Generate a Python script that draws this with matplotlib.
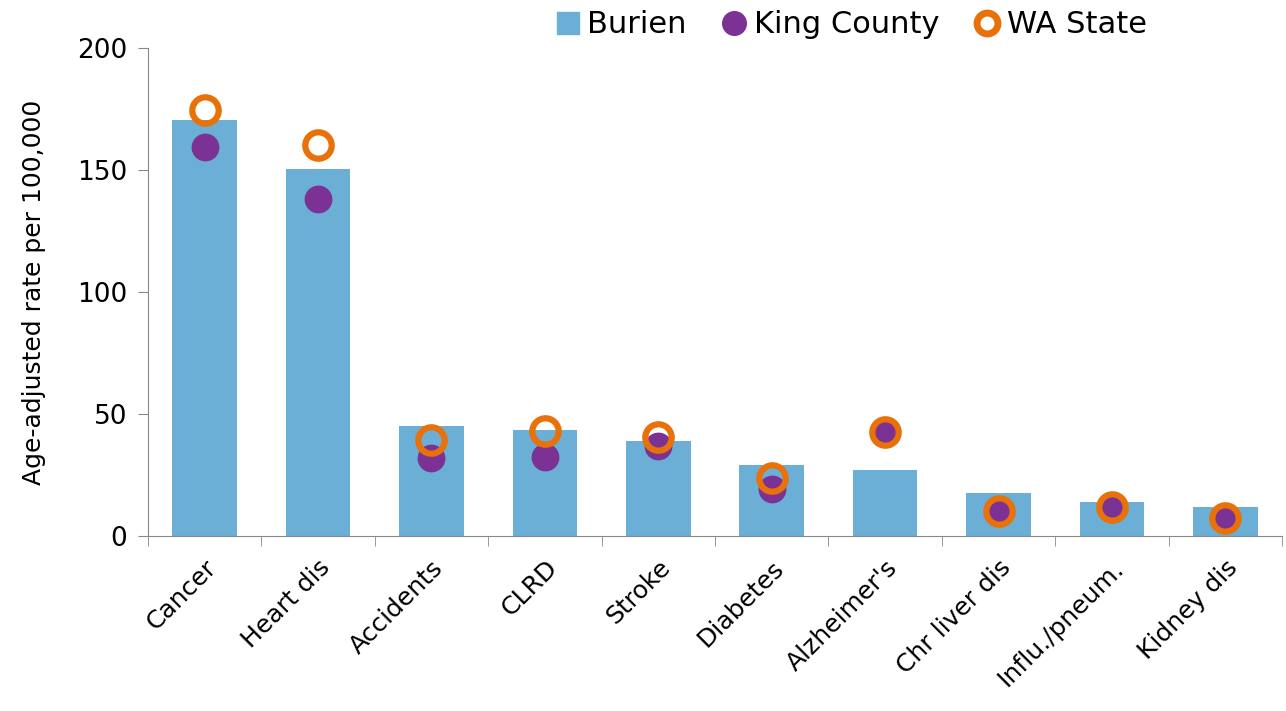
import matplotlib.pyplot as plt
from matplotlib.lines import Line2D
import numpy as np

categories = ['Cancer', 'Heart dis', 'Accidents', 'CLRD', 'Stroke', 'Diabetes',
              "Alzheimer's", 'Chr liver dis', 'Influ./pneum.', 'Kidney dis']
burien = [170.3, 150.5, 45.3, 43.3, 38.9, 29.1, 27.1, 17.6, 13.9, 11.9]
king_county = [159.3, 138.0, 32.0, 32.4, 36.9, 19.3, 42.6, 9.8, 11.0, 7.4]
wa_state = [174.6, 160.2, 39.3, 43.0, 40.6, 23.8, 42.6, 10.2, 11.9, 7.4]

bar_color = '#6BAED6'
purple = '#7B3294'
orange = '#E8710A'

fig = plt.figure(figsize=(12.86, 7.11), dpi=100)
ax = fig.add_axes([0.115, 0.246, 0.882, 0.6865])

x = np.arange(len(categories))
ax.bar(x, burien, width=0.57, color=bar_color, zorder=1)
ax.plot(x, king_county, 'o', ls='none', color=purple, markersize=19, zorder=2)
ax.plot(x, wa_state, 'o', ls='none', markerfacecolor='none', markeredgecolor=orange,
        markeredgewidth=4.5, markersize=19, zorder=3)

ax.set_xlim(-0.5, len(categories) - 0.5)
ax.set_ylim(0, 200)
ax.set_yticks([0, 50, 100, 150, 200])
ax.set_xticks(x)
ax.set_xticklabels(categories, rotation=45, ha='right', rotation_mode='anchor', fontsize=18)
ax.set_xticks(np.arange(len(categories) + 1) - 0.5, minor=True)
ax.tick_params(axis='x', which='major', length=0, pad=14)
ax.tick_params(axis='x', which='minor', length=7, color='#888888')
ax.tick_params(axis='y', length=7, color='#888888', labelsize=19, pad=8)
ax.set_ylabel('Age-adjusted rate per 100,000', fontsize=18, labelpad=22)

for side in ['top', 'right']:
    ax.spines[side].set_visible(False)
ax.spines['left'].set_color('#888888')
ax.spines['bottom'].set_color('#888888')

handles = [
    Line2D([], [], marker='s', ls='none', color=bar_color, markersize=16),
    Line2D([], [], marker='o', ls='none', color=purple, markersize=17),
    Line2D([], [], marker='o', ls='none', markerfacecolor='none', markeredgecolor=orange,
           markeredgewidth=5, markersize=15),
]
fig.legend(handles, ['Burien', 'King County', 'WA State'], loc='center',
           bbox_to_anchor=(0.66, 0.965), ncol=3, frameon=False, fontsize=22,
           handletextpad=0.1, columnspacing=1.0, handlelength=1.1)

fig.savefig('out.png', dpi=100)
